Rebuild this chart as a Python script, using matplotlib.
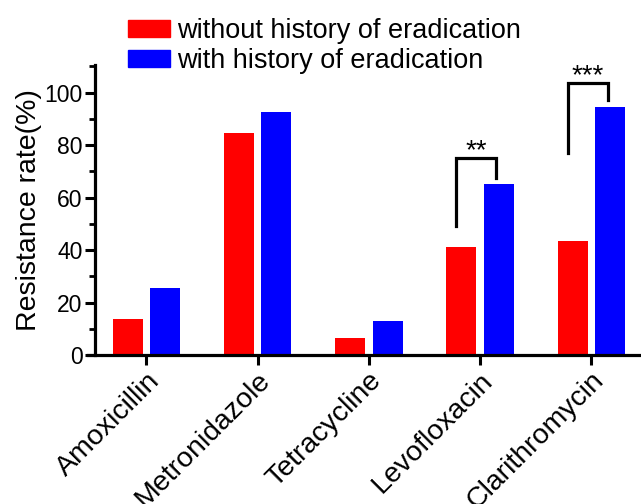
import numpy as np
import matplotlib.pyplot as plt
from matplotlib.patches import Patch
from matplotlib.ticker import MultipleLocator

plt.rcParams['font.family'] = ['Liberation Sans', 'DejaVu Sans']

# Data
drugs = ['Amoxicillin', 'Metronidazole', 'Tetracycline', 'Levofloxacin', 'Clarithromycin']
without_hist = [13.8, 84.7, 6.4, 41.2, 43.3]
with_hist = [25.4, 92.5, 12.8, 65.2, 94.5]
labels = ['without history of eradication', 'with history of eradication']

# significance brackets: (category index, left bottom, right bottom, top, stars)
sig_idx = [3, 4]
sig_left = [49.3, 76.8]
sig_right = [67.5, 97.1]
sig_top = [75.0, 103.5]
sig_text = ['**', '***']

fig = plt.figure(figsize=(6.41, 5.04), dpi=100)
ax = fig.add_axes([88 / 641, 1 - 355 / 504, 553 / 641, 290 / 504])

x = np.arange(len(drugs))
w = 0.27
ax.bar(x - 0.165, without_hist, w, color='#ff0000')
ax.bar(x + 0.17, with_hist, w, color='#0000ff')

for i, yl, yr, yt, s in zip(sig_idx, sig_left, sig_right, sig_top, sig_text):
    xl, xr = i - 0.21, i + 0.15
    ax.plot([xl, xl, xr, xr], [yl, yt, yt, yr], color='black', lw=2.3,
            solid_joinstyle='miter', clip_on=False)
    ax.text((xl + xr) / 2, yt + 0.1, s, ha='center', va='baseline', fontsize=20)

ax.set_xlim(-0.525, 4.45)
ax.set_ylim(0, 110.5)
ax.spines['top'].set_visible(False)
ax.spines['right'].set_visible(False)
ax.spines['left'].set_position(('data', -0.46))
for sp in ['left', 'bottom']:
    ax.spines[sp].set_linewidth(2.3)

ax.yaxis.set_major_locator(MultipleLocator(20))
ax.yaxis.set_minor_locator(MultipleLocator(10))
ax.tick_params(axis='both', which='major', length=7, width=2.2, pad=2)
ax.tick_params(axis='y', which='major', labelsize=16.5)
ax.tick_params(axis='x', which='major', labelsize=20.5)
ax.tick_params(axis='y', which='minor', length=4, width=2.0)
ax.set_xticks(x)
ax.set_xticklabels(drugs, rotation=45, ha='right', rotation_mode='anchor')
ax.set_ylabel('Resistance rate(%)', fontsize=20.5, labelpad=2)

handles = [Patch(color='#ff0000'), Patch(color='#0000ff')]
fig.legend(handles, labels, loc='upper left', bbox_to_anchor=(128 / 641, 1 - 18 / 504),
           frameon=False, fontsize=19.5, handlelength=1.55, handleheight=0.63,
           handletextpad=0.27, labelspacing=0.15, borderpad=0, borderaxespad=0)

fig.savefig('out.png', dpi=100)
